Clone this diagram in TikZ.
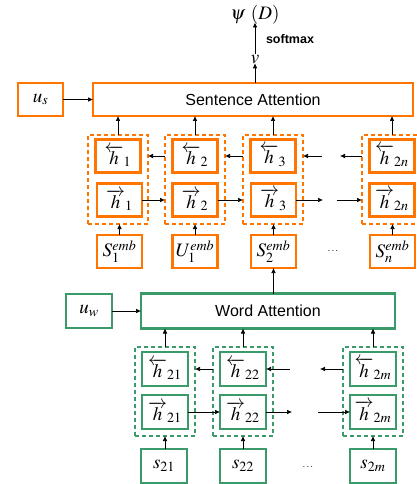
\documentclass[tikz,border=0pt]{standalone}
\usepackage{mathptmx}
\usepackage{fontspec}
\setsansfont{Liberation Sans}
\usetikzlibrary{arrows.meta}
\definecolor{orng}{RGB}{255,117,0}
\definecolor{grn}{RGB}{58,154,106}
\begin{document}
\begin{tikzpicture}[x=1pt,y=-1pt,
  every node/.style={inner sep=0pt,outer sep=0pt},
  obox/.style={draw=orng,line width=2.6pt,fill=white,minimum width=45pt,minimum height=33pt,font=\fontsize{19}{22}\selectfont},
  gbox/.style={draw=grn,line width=2.3pt,fill=white,minimum width=46pt,minimum height=34pt,font=\fontsize{19}{22}\selectfont},
  odash/.style={draw=orng,line width=2.6pt,dash pattern=on 4pt off 3pt,minimum width=60pt,minimum height=89pt},
  gdash/.style={draw=grn,line width=2.3pt,dash pattern=on 4pt off 3pt,minimum width=60pt,minimum height=89pt},
  attn/.style={font=\sffamily\fontsize{16}{18}\selectfont},
  arr/.style={-{Latex[length=5pt,width=4.5pt]},line width=0.6pt,black}]
\useasboundingbox (0,0) rectangle (416,484);
% top
\node (psi) at (255,15) {\fontsize{19}{22}\selectfont$\psi\ (D)$};
\node (v) at (255,60) {\fontsize{19}{22}\selectfont$v$};
\node[font=\sffamily\bfseries\fontsize{12.5}{14}\selectfont] (smx) at (290,39) {softmax};
% sentence attention
\node[obox] (us) at (40.5,99.5) {$u_s$};
\node[obox,minimum width=320pt,attn] (sa) at (253,99.5) {Sentence Attention};
% sentence columns
\foreach \i/\x in {1/118,2/195,3/273,4/392}{
  \node[odash] (od\i) at (\x,179.5) {};
}
\node[obox] (ob1) at (118,156) {$\overleftarrow{h}_{1}$};
\node[obox] (of1) at (119.5,200) {$\overrightarrow{h}_{1}$};
\node[obox] (ob2) at (195,156) {$\overleftarrow{h}_{2}$};
\node[obox] (of2) at (195,200) {$\overrightarrow{h}_{2}$};
\node[obox] (ob3) at (273,156) {$\overleftarrow{h}_{3}$};
\node[obox] (of3) at (273.5,200) {$\overrightarrow{h}_{3}$};
\node[obox] (ob4) at (392,156) {$\overleftarrow{h}_{2n}$};
\node[obox] (of4) at (392,200) {$\overrightarrow{h}_{2n}$};
\node[obox] (e1) at (119.5,251.5) {$S^{emb}_{1}$};
\node[obox] (e2) at (195,251.5) {$U^{emb}_{1}$};
\node[obox] (e3) at (273.5,251.5) {$S^{emb}_{2}$};
\node[obox] (e4) at (392.5,251.5) {$S^{emb}_{n}$};
\node (edots) at (333,251) {$\cdots$};
% word attention
\node[gbox] (uw) at (89,311) {$u_w$};
\node[gbox,minimum width=254pt,minimum height=35pt,attn] (wa) at (268,311) {Word Attention};
\foreach \i/\x in {1/165,2/243,3/373}{
  \node[gdash] (gd\i) at (\x,391.5) {};
}
\node[gbox] (gb1) at (165,369) {$\overleftarrow{h}_{21}$};
\node[gbox] (gf1) at (165,412) {$\overrightarrow{h}_{21}$};
\node[gbox] (gb2) at (243,369) {$\overleftarrow{h}_{22}$};
\node[gbox] (gf2) at (243,412) {$\overrightarrow{h}_{22}$};
\node[gbox] (gb3) at (373,369) {$\overleftarrow{h}_{2m}$};
\node[gbox] (gf3) at (373,412) {$\overrightarrow{h}_{2m}$};
\node[gbox] (s1) at (164,466) {$s_{21}$};
\node[gbox] (s2) at (243,466) {$s_{22}$};
\node[gbox] (s3) at (373,466) {$s_{2m}$};
\node (sdots) at (308,467) {$\cdots$};
% free ends
\coordinate (sbA) at (322,156);
\coordinate (sbB) at (340,156);
\coordinate (sfA) at (323,200);
\coordinate (sfB) at (337,200);
\coordinate (wbA) at (290,369);
\coordinate (wbB) at (320,369);
\coordinate (wfA) at (292,412);
\coordinate (wfB) at (318,412);
% top arrows
\draw[arr] (sa.north -| v) -- ([yshift=1pt]v.south);
\draw[arr] ([yshift=2pt]v.north) -- ([yshift=2pt]psi.south);
\draw[arr] (us) -- (sa);
\foreach \i in {1,2,3,4}{
  \draw[arr] (od\i.north) -- (od\i.north |- sa.south);
}
\foreach \i in {1,2,3,4}{
  \draw[arr] (e\i.north) -- (e\i.north |- od\i.south);
}
% sentence recurrences
\draw[arr] (od2.west |- ob2) -- (od1.east |- ob1);
\draw[arr] (od3.west |- ob3) -- (od2.east |- ob2);
\draw[arr] (sbA) -- (od3.east |- ob3);
\draw[arr] (od4.west |- ob4) -- (sbB);
\draw[arr] (of1.east) -- (od2.west |- of2);
\draw[arr] (of2.east) -- (od3.west |- of3);
\draw[arr] (of3.east) -- (sfA);
\draw[arr] (sfB) -- (od4.west |- of4);
% word level
\draw[arr] (wa.north -| e3) -- (e3.south);
\draw[arr] (uw) -- (wa);
\foreach \i in {1,2,3}{
  \draw[arr] (gd\i.north) -- (gd\i.north |- wa.south);
  \draw[arr] (s\i.north -| gd\i) -- (gd\i.south);
}
\draw[arr] (gd2.west |- gb2) -- (gd1.east |- gb1);
\draw[arr] (wbA) -- (gb2.east);
\draw[arr] (gd3.west |- gb3) -- (wbB);
\draw[arr] (gf1.east) -- (gf2.west);
\draw[arr] (gf2.east) -- (wfA);
\draw[arr] (wfB) -- (gf3.west);
\end{tikzpicture}
\end{document}
